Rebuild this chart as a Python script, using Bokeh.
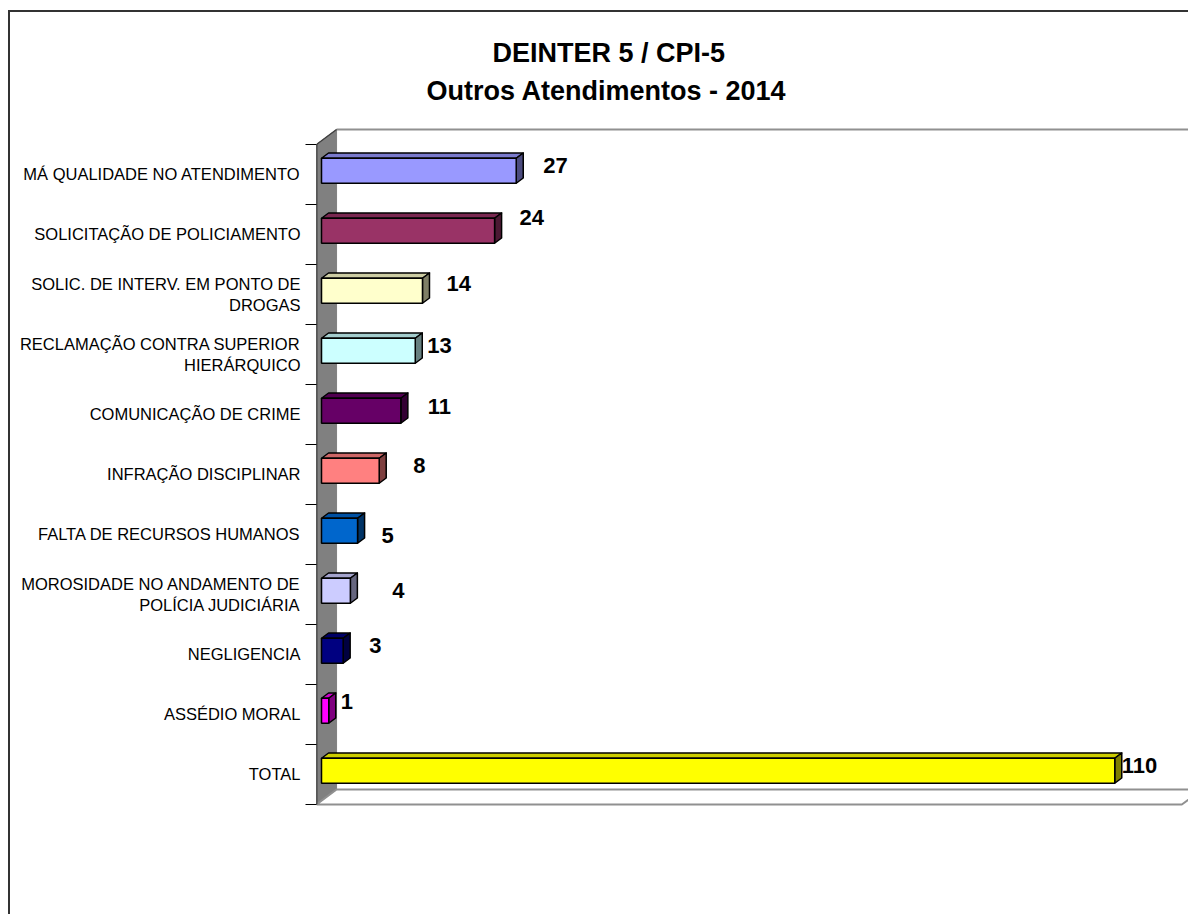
from bokeh.plotting import figure
from bokeh.models import Range1d, FixedTicker, Title, ColumnDataSource
from bokeh.embed import file_html
from bokeh.resources import INLINE
from bokeh.core.properties import value

# ---- data ----
categories = [
    "MÁ QUALIDADE NO ATENDIMENTO",
    "SOLICITAÇÃO DE POLICIAMENTO",
    "SOLIC. DE INTERV. EM PONTO DE\nDROGAS",
    "RECLAMAÇÃO CONTRA SUPERIOR\nHIERÁRQUICO",
    "COMUNICAÇÃO DE CRIME",
    "INFRAÇÃO DISCIPLINAR",
    "FALTA DE RECURSOS HUMANOS",
    "MOROSIDADE NO ANDAMENTO DE\nPOLÍCIA JUDICIÁRIA",
    "NEGLIGENCIA",
    "ASSÉDIO MORAL",
    "TOTAL",
]
counts = [27, 24, 14, 13, 11, 8, 5, 4, 3, 1, 110]
bar_colors = ["#9999FF", "#993366", "#FFFFCC", "#CCFFFF", "#660066", "#FF8080",
              "#0066CC", "#CCCCFF", "#000080", "#FF00FF", "#FFFF00"]
title_line1 = "DEINTER 5 / CPI-5"
title_line2 = "Outros Atendimentos - 2014"

# label nudges (screen px), style only
label_dx = [20, 18, 17, 5, 20, 27, 17, 35, 19, 5, 0]
label_dy = [-9, -17, -11, -9, -8, -9, 1, -4, -9, -13, -9]

# ---- layout / style ----
AXIS_MAX = 120
X_END = 121.2
DEPTH_X = 2.78   # depth of the 3-D box in value units (~20 px)
DEPTH_Y = 0.25   # depth of the 3-D box in category units (~15 px)
D0, D1 = 0.25, 0.60
HALF_H = 0.2083

n = len(categories)


def shade(hex_color, f):
    h = hex_color.lstrip("#")
    r, g, b = (int(h[i:i + 2], 16) for i in (0, 2, 4))
    return "#%02x%02x%02x" % (int(r * f), int(g * f), int(b * f))


p = figure(width=1180, height=904, output_backend="svg", toolbar_location=None,
           x_range=Range1d(0, X_END), y_range=Range1d(-2.367, 11.1),
           x_axis_location=None, min_border_left=306, min_border_right=0,
           min_border_top=96, min_border_bottom=0)
p.title = None
p.outline_line_color = None
p.background_fill_color = "white"
p.border_fill_color = "white"
p.xgrid.visible = False
p.ygrid.visible = False
p.styles = {"margin-left": "8px", "margin-top": "10px",
            "border-left": "2px solid #333333", "border-top": "2px solid #333333"}

# titles (later added = higher)
p.add_layout(Title(text=title_line2, align="left", offset=110, text_font="Liberation Sans",
                   text_font_style="bold", text_font_size="27px", text_color="black",
                   standoff=6), "above")
p.add_layout(Title(text=title_line1, align="left", offset=176, text_font="Liberation Sans",
                   text_font_style="bold", text_font_size="27px", text_color="black",
                   standoff=6), "above")

# ---- 3-D walls ----
top_edge = n - 0.5
bot_edge = -0.5
# left (side) wall
p.patch([0, DEPTH_X, DEPTH_X, 0],
        [top_edge, top_edge + DEPTH_Y, bot_edge + DEPTH_Y, bot_edge],
        fill_color="#808080", line_color="#808080", line_width=1)
# floor
p.patch([0, AXIS_MAX, AXIS_MAX + DEPTH_X, DEPTH_X],
        [bot_edge, bot_edge, bot_edge + DEPTH_Y, bot_edge + DEPTH_Y],
        fill_color="white", line_color="#909090", line_width=2)
# back wall top edge
p.line([DEPTH_X, AXIS_MAX + DEPTH_X], [top_edge + DEPTH_Y, top_edge + DEPTH_Y],
       line_color="#909090", line_width=2)
# wall top slant and front edge
p.line([0, DEPTH_X], [top_edge, top_edge + DEPTH_Y], line_color="#404040", line_width=1.5)
p.line([0, 0], [top_edge, bot_edge], line_color="black", line_width=1.5)

# ---- bars ----
yc = [n - 1 - i for i in range(n)]
front = ColumnDataSource(dict(
    left=[D0 * DEPTH_X] * n,
    right=[v + D0 * DEPTH_X for v in counts],
    bottom=[c + D0 * DEPTH_Y - HALF_H for c in yc],
    top=[c + D0 * DEPTH_Y + HALF_H for c in yc],
    color=bar_colors,
))
top_xs, top_ys, side_xs, side_ys = [], [], [], []
for v, c in zip(counts, yc):
    t0 = c + D0 * DEPTH_Y + HALF_H
    b0 = c + D0 * DEPTH_Y - HALF_H
    t1 = c + D1 * DEPTH_Y + HALF_H
    b1 = c + D1 * DEPTH_Y - HALF_H
    x0 = D0 * DEPTH_X
    x1 = D1 * DEPTH_X
    top_xs.append([x0, v + x0, v + x1, x1])
    top_ys.append([t0, t0, t1, t1])
    side_xs.append([v + x0, v + x0, v + x1, v + x1])
    side_ys.append([b0, t0, t1, b1])

faces = ColumnDataSource(dict(
    top_xs=top_xs, top_ys=top_ys, side_xs=side_xs, side_ys=side_ys,
    top_color=[shade(c, 0.8) for c in bar_colors],
    side_color=[shade(c, 0.5) for c in bar_colors],
))
p.patches("top_xs", "top_ys", source=faces, fill_color="top_color",
          line_color="black", line_width=1.5, line_join="round")
p.patches("side_xs", "side_ys", source=faces, fill_color="side_color",
          line_color="black", line_width=1.5, line_join="round")
p.quad(left="left", right="right", bottom="bottom", top="top", source=front,
       fill_color="color", line_color="black", line_width=1.5)

# ---- value labels ----
labels = ColumnDataSource(dict(
    x=[v + D1 * DEPTH_X for v in counts],
    y=yc,
    text=[str(v) for v in counts],
    dx=label_dx,
    dy=label_dy,
))
p.text(x="x", y="y", text="text", x_offset="dx", y_offset="dy", source=labels,
       text_font=value("Liberation Sans"), text_font_style="bold",
       text_font_size="22px", text_color="black",
       text_align="left", text_baseline="middle")

# ---- category axis ----
ax = p.yaxis[0]
ax.ticker = FixedTicker(ticks=list(range(n)), minor_ticks=[i - 0.5 for i in range(n + 1)])
ax.major_label_overrides = {yc[i]: categories[i] for i in range(n)}
ax.axis_line_color = None
ax.major_tick_line_color = None
ax.major_tick_out = 0
ax.major_tick_in = 0
ax.minor_tick_line_color = "black"
ax.minor_tick_line_width = 1
ax.minor_tick_out = 11
ax.minor_tick_in = 0
ax.major_label_standoff = 5
ax.major_label_text_font = "Liberation Sans"
ax.major_label_text_font_size = "16.5px"
ax.major_label_text_color = "black"

open("out.html", "w").write(file_html(p, INLINE))
